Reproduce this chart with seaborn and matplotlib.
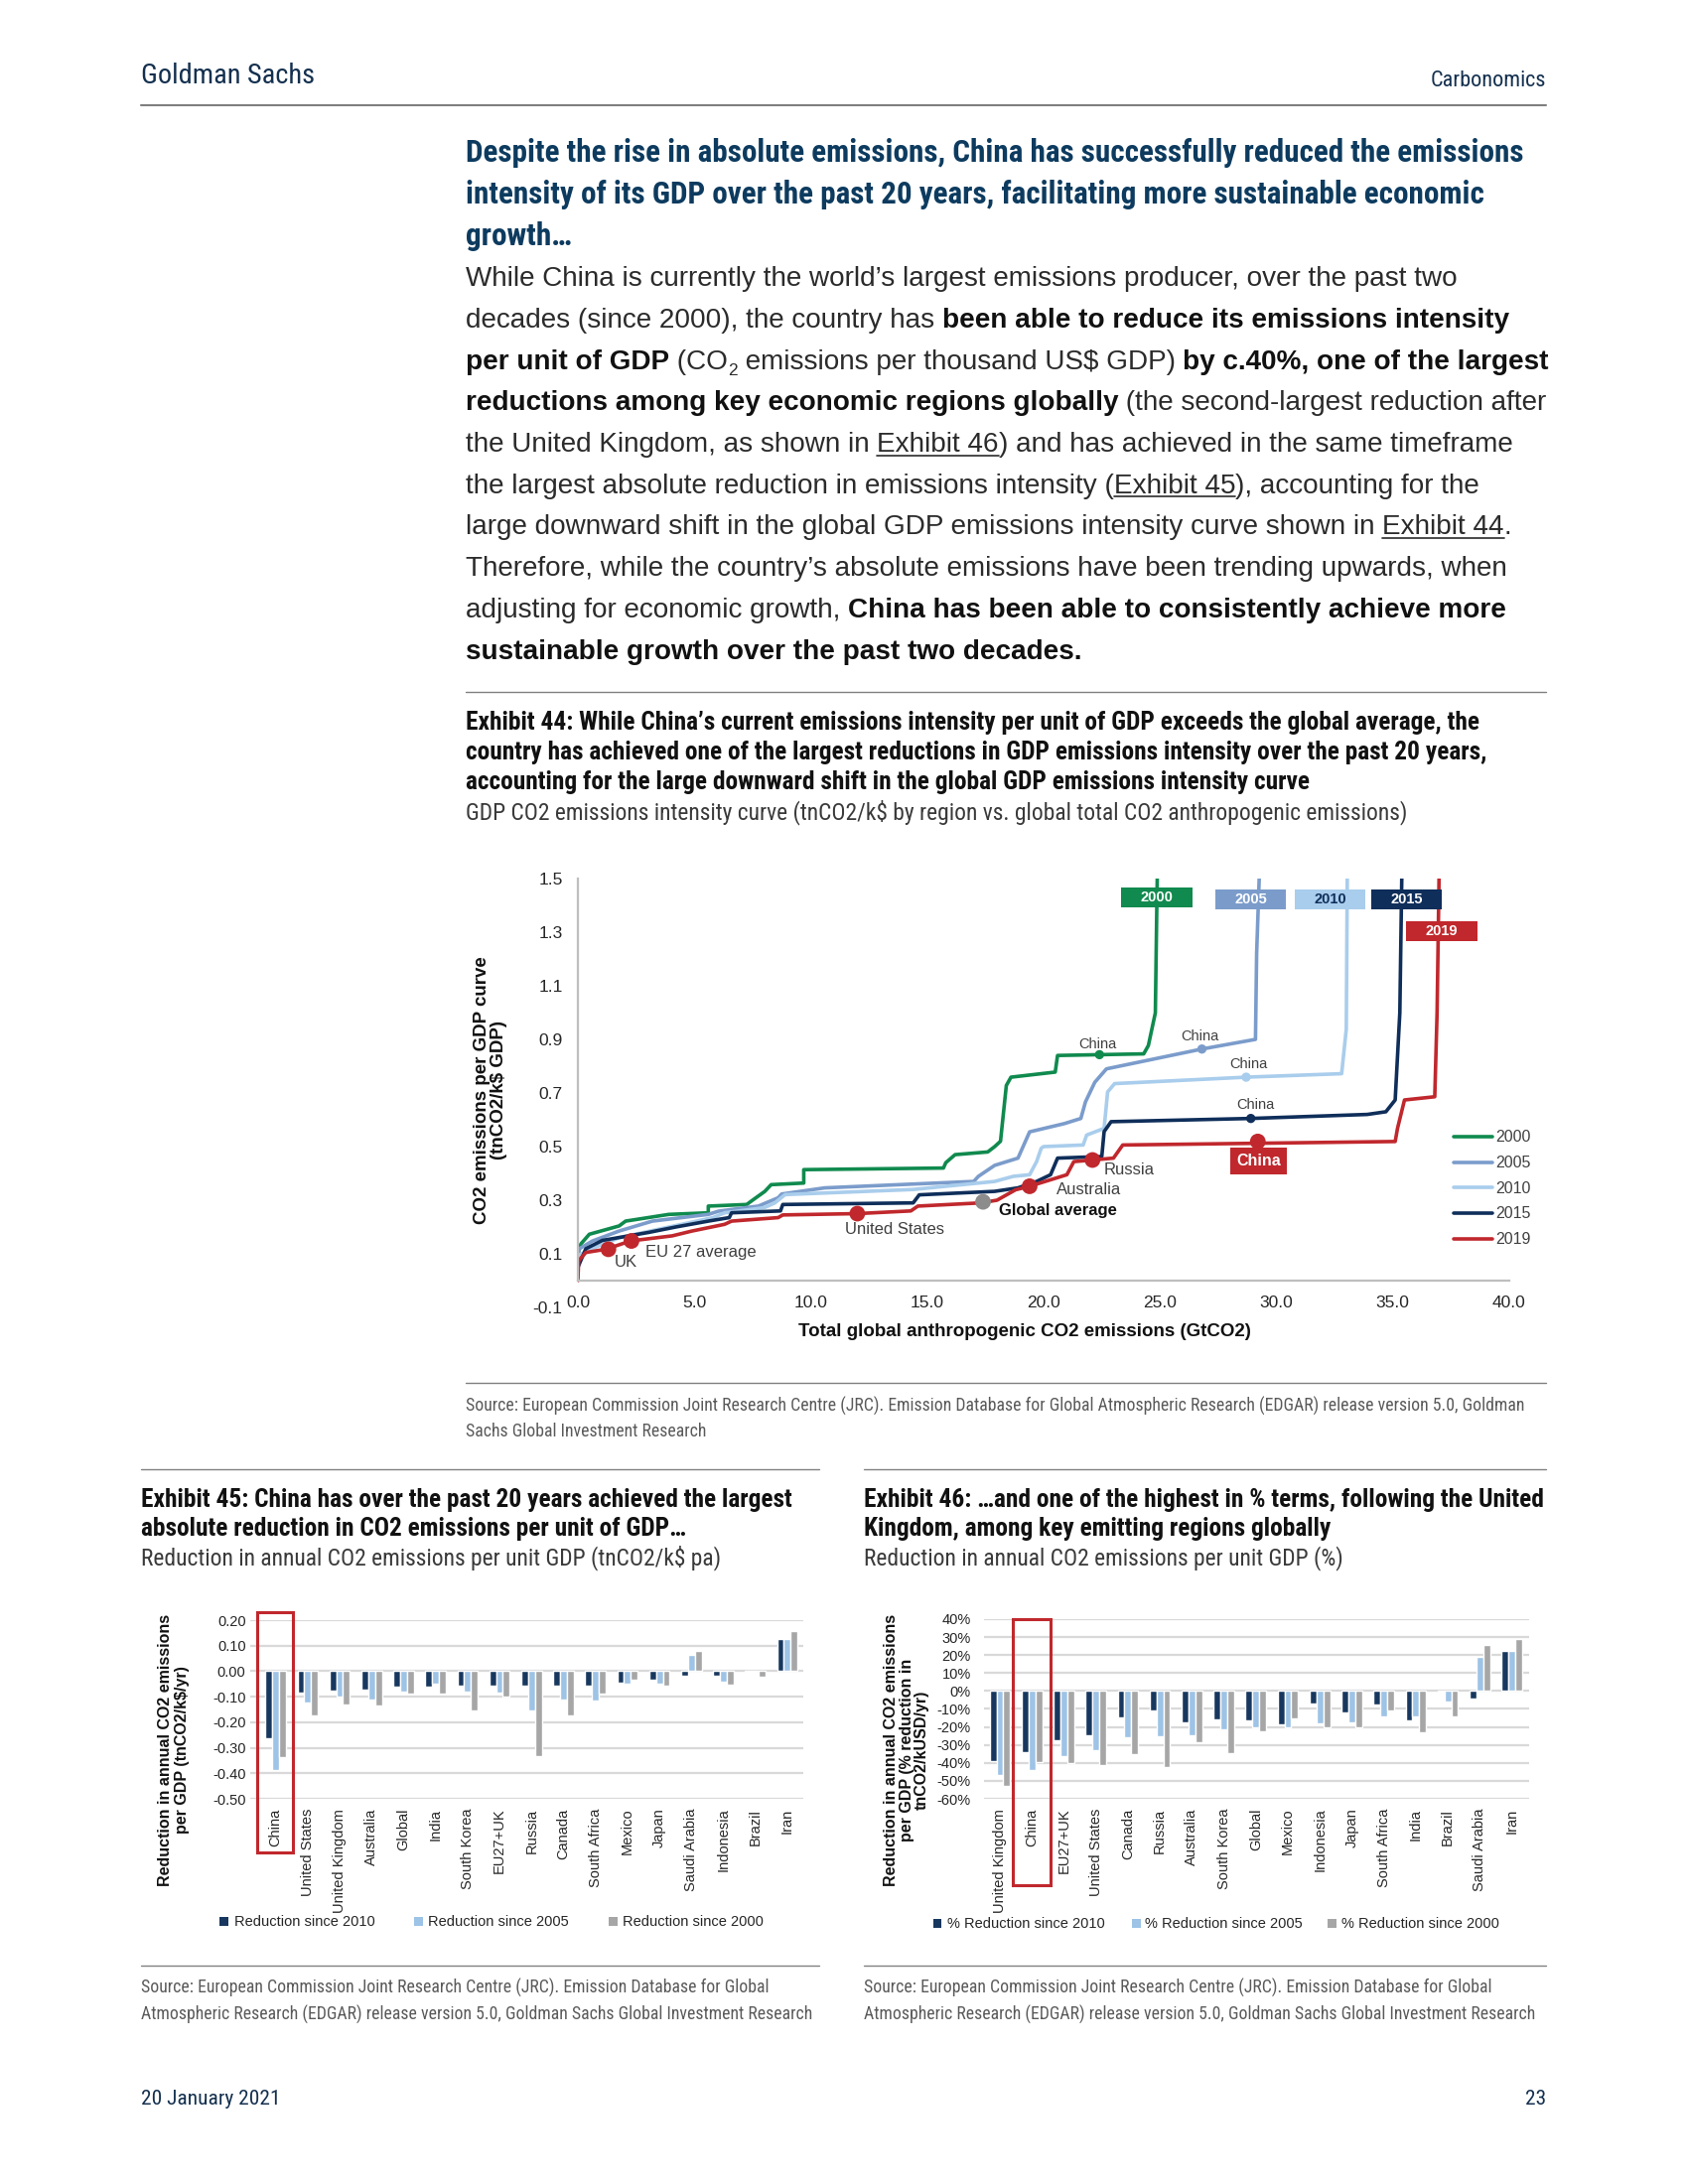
import numpy as np
import pandas as pd
import matplotlib
matplotlib.use("Agg")
import matplotlib.pyplot as plt
import matplotlib.transforms as mtransforms
from matplotlib.lines import Line2D
from matplotlib.patches import Rectangle
from matplotlib import font_manager
import seaborn as sns

# ---------------- data ----------------
years = ["2000", "2005", "2010", "2015", "2019"]

# GDP CO2 intensity curves (cumulative GtCO2 vs tnCO2/k$)
x_2000 = [0.0, 0.13, 0.49, 1.77, 2.05, 3.9, 5.6, 5.6, 7.25, 7.5, 8.03, 8.3, 9.7, 9.7,
          15.7, 15.8, 16.2, 17.6, 17.9, 18.15, 18.4, 18.6, 20.5, 20.6, 24.3, 24.5, 24.8, 24.86, 24.9]
y_2000 = [0.10, 0.137, 0.173, 0.204, 0.222, 0.247, 0.253, 0.278, 0.284, 0.30, 0.333, 0.358, 0.364, 0.414,
          0.42, 0.44, 0.47, 0.48, 0.50, 0.52, 0.728, 0.759, 0.778, 0.84, 0.846, 0.877, 0.999, 1.38, 1.6]
x_2005 = [0.0, 0.06, 0.63, 1.77, 3.2, 5.6, 6.04, 7.75, 8.6, 8.75, 10.6, 17.0, 17.2, 17.9, 18.9,
          19.4, 20.9, 21.6, 21.8, 22.2, 22.7, 26.8, 29.1, 29.15, 29.3]
y_2005 = [0.09, 0.119, 0.148, 0.185, 0.222, 0.247, 0.259, 0.278, 0.309, 0.323, 0.346, 0.37, 0.389, 0.43, 0.457,
          0.555, 0.586, 0.605, 0.667, 0.74, 0.79, 0.864, 0.90, 1.22, 1.6]
x_2010 = [0.0, 0.06, 0.9, 1.77, 5.8, 6.3, 8.0, 8.46, 8.9, 14.4, 17.2, 17.9, 18.7, 19.4, 19.7, 19.9,
          20.0, 21.7, 21.85, 22.6, 22.75, 23.05, 28.7, 32.8, 33.0, 33.05]
y_2010 = [0.08, 0.096, 0.13, 0.16, 0.235, 0.253, 0.272, 0.29, 0.321, 0.34, 0.364, 0.37, 0.389, 0.395, 0.444, 0.494,
          0.50, 0.506, 0.543, 0.568, 0.704, 0.735, 0.759, 0.772, 0.938, 1.6]
x_2015 = [0.0, 0.06, 0.34, 1.05, 3.05, 4.2, 5.6, 6.5, 6.6, 8.7, 8.8, 14.4, 14.66, 17.9, 18.9, 19.7,
          20.3, 20.6, 22.5, 22.6, 22.9, 28.9, 33.9, 34.7, 35.1, 35.3, 35.4]
y_2015 = [0.05, 0.062, 0.119, 0.15, 0.18, 0.20, 0.222, 0.235, 0.253, 0.26, 0.284, 0.29, 0.32, 0.333, 0.346, 0.37,
          0.395, 0.457, 0.463, 0.556, 0.593, 0.605, 0.62, 0.63, 0.674, 1.0, 1.6]
x_2019 = [0.0, 0.03, 0.34, 1.2, 2.26, 4.05, 4.9, 6.3, 6.6, 8.6, 8.8, 12.0, 14.3, 14.6, 17.3, 18.0,
          18.8, 19.4, 21.0, 21.3, 22.1, 23.0, 23.4, 35.1, 35.2, 35.5, 36.8, 36.9, 37.0]
y_2019 = [0.0, 0.074, 0.105, 0.117, 0.148, 0.167, 0.185, 0.21, 0.222, 0.235, 0.245, 0.25, 0.26, 0.278, 0.29, 0.30,
          0.339, 0.352, 0.395, 0.444, 0.45, 0.457, 0.506, 0.519, 0.568, 0.674, 0.686, 1.0, 1.6]

china_x = [22.4, 26.8, 28.7, 28.9]          # China points on the 2000/2005/2010/2015 curves
china_y = [0.843, 0.864, 0.759, 0.605]
china_lab_x = [22.3, 26.7, 28.8, 29.1]
china_lab_y = [0.883, 0.91, 0.806, 0.657]

pts_2019_names = ["UK", "EU 27 average", "United States", "Australia", "Russia", "China"]
pts_2019_x = [1.31, 2.3, 12.0, 19.4, 22.1, 29.2]
pts_2019_y = [0.117, 0.148, 0.25, 0.352, 0.45, 0.519]
pts_lab_x = [1.55, 2.88, 11.45, 20.56, 22.6]
pts_lab_y = [0.07, 0.106, 0.191, 0.34, 0.414]
glob_x, glob_y = 17.4, 0.294

box_x = [24.86, 28.9, 32.3, 35.6, 37.1]
box_y = [1.429, 1.421, 1.421, 1.421, 1.305]

# Exhibit 45: absolute reduction (tnCO2/k$ pa)
ex45_regions = ["China", "United States", "United Kingdom", "Australia", "Global", "India",
                "South Korea", "EU27+UK", "Russia", "Canada", "South Africa", "Mexico", "Japan",
                "Saudi Arabia", "Indonesia", "Brazil", "Iran"]
ex45_since_2010 = [-0.262, -0.084, -0.075, -0.071, -0.060, -0.060, -0.055, -0.055, -0.055, -0.055,
                   -0.055, -0.045, -0.032, -0.016, -0.016, -0.002, 0.128]
ex45_since_2005 = [-0.389, -0.123, -0.100, -0.110, -0.080, -0.048, -0.080, -0.084, -0.153, -0.110,
                   -0.116, -0.047, -0.048, 0.062, -0.042, -0.003, 0.128]
ex45_since_2000 = [-0.337, -0.172, -0.129, -0.136, -0.088, -0.088, -0.153, -0.099, -0.331, -0.172,
                   -0.088, -0.035, -0.055, 0.079, -0.051, -0.022, 0.156]
ex45_ticks = [0.2, 0.1, 0.0, -0.1, -0.2, -0.3, -0.4, -0.5]
ex45_ticklabels = ["0.20", "0.10", "0.00", "-0.10", "-0.20", "-0.30", "-0.40", "-0.50"]

# Exhibit 46: % reduction
ex46_regions = ["United Kingdom", "China", "EU27+UK", "United States", "Canada", "Russia",
                "Australia", "South Korea", "Global", "Mexico", "Indonesia", "Japan",
                "South Africa", "India", "Brazil", "Saudi Arabia", "Iran"]
ex46_since_2010 = [-38.8, -33.8, -27.3, -24.9, -14.8, -10.6, -17.2, -15.7, -16.6, -18.5, -6.9,
                   -11.7, -7.4, -16.6, -0.3, -4.1, 22.1]
ex46_since_2005 = [-46.5, -43.9, -36.0, -33.2, -25.9, -25.3, -24.4, -21.3, -20.3, -20.0, -18.1,
                   -17.6, -13.9, -13.9, -5.6, 19.0, 22.1]
ex46_since_2000 = [-52.6, -39.7, -40.3, -41.0, -35.1, -42.5, -28.3, -34.5, -22.2, -15.2, -20.3,
                   -20.0, -11.1, -23.1, -13.9, 25.4, 28.9]
ex46_ticks = [40, 30, 20, 10, 0, -10, -20, -30, -40, -50, -60]
ex46_ticklabels = ["40%", "30%", "20%", "10%", "0%", "-10%", "-20%", "-30%", "-40%", "-50%", "-60%"]

# ---------------- style ----------------
sns.set_theme(style="white")
plt.rcParams["font.family"] = ["Liberation Sans", "DejaVu Sans"]
plt.rcParams["axes.unicode_minus"] = False

SANS = dict(family=["Liberation Sans", "DejaVu Sans"])

# pick a condensed face for the report typography if one is installed
_fonts = font_manager.fontManager.ttflist
_names = {f.name for f in _fonts}
NARROW = SANS
for cand in ["Liberation Sans Narrow", "Roboto Condensed", "Open Sans Condensed", "DejaVu Sans Condensed"]:
    if cand in _names:
        NARROW = dict(family=[cand, "DejaVu Sans"])
        break
else:
    if any(f.name == "DejaVu Sans" and f.stretch == "condensed" for f in _fonts):
        NARROW = dict(family=["DejaVu Sans"], stretch="condensed")
    elif any(f.name == "Roboto" and f.stretch == "condensed" for f in _fonts):
        NARROW = dict(family=["Roboto"], stretch="condensed")

line_colors = {"2000": "#108A4E", "2005": "#7B9CCB", "2010": "#A9CDEC", "2015": "#0F2E5A", "2019": "#C0282D"}
box_text = {"2000": "white", "2005": "white", "2010": "#0F2E5A", "2015": "white", "2019": "white"}
bar_colors = ["#17375E", "#9DC3E6", "#A6A6A6"]
NAVY = "#14304F"
HEAD = "#0D3B5F"
RED = "#C0282D"

W, H = 1700, 2200
fig = plt.figure(figsize=(17, 22), dpi=100)
fig.patch.set_facecolor("white")
R = fig.canvas.get_renderer()


def text_w(s, size, fp, weight="normal"):
    t = fig.text(0, 0, s, fontsize=size, weight=weight, **fp)
    w = t.get_window_extent(R).width
    t.remove()
    return w


def adv(s, size, fp, weight="normal"):
    return text_w(s + "|", size, fp, weight) - text_w("|", size, fp, weight)


def fit_size(s, width, fp, weight="normal"):
    return 20.0 * width / adv(s, 20.0, fp, weight)


def put(x, cy, s, size, fp, weight="normal", color="#222222", ha="left"):
    base = cy + 0.33 * size * 100 / 72
    fig.text(x / W, 1 - base / H, s, fontsize=size, weight=weight,
             color=color, ha=ha, va="baseline", **fp)


def put_runs(x, cy, runs, size, fp, color_n, color_b):
    px = size * 100 / 72
    base = cy + 0.33 * px
    for s, style in runs:
        weight = "bold" if style == "b" else "normal"
        fs = size * 0.62 if style == "sub" else size
        yb = base + 0.22 * px if style == "sub" else base
        col = color_b if style == "b" else color_n
        fig.text(x / W, 1 - yb / H, s, fontsize=fs, weight=weight, color=col, va="baseline", **fp)
        w = adv(s, fs, fp, weight)
        if style == "u":
            fig.add_artist(Line2D([x / W, (x + w) / W], [1 - (base + 0.13 * px) / H] * 2,
                                  transform=fig.transFigure, color=col, lw=1.2))
        x += w


def hrule(x0, x1, y, lw=1.0, color="#808080"):
    fig.add_artist(Line2D([x0 / W, x1 / W], [1 - y / H] * 2, transform=fig.transFigure,
                          color=color, lw=lw))


# ---------------- header ----------------
gs_size = fit_size("Goldman Sachs", 175, NARROW)
put(142, 75, "Goldman Sachs", gs_size, NARROW, color=NAVY)
cb_size = fit_size("Carbonomics", 116, NARROW)
put(1557, 80, "Carbonomics", cb_size, NARROW, color=NAVY, ha="right")
hrule(142, 1557, 106, lw=1.5, color="#7F7F7F")

# ---------------- heading + body ----------------
heading = ["Despite the rise in absolute emissions, China has successfully reduced the emissions",
           "intensity of its GDP over the past 20 years, facilitating more sustainable economic",
           "growth…"]
hs = fit_size(heading[0], 1060, NARROW, "bold")
for i, line in enumerate(heading):
    put(469, 153 + 42 * i, line, hs, NARROW, weight="bold", color=HEAD)

body = [
    [("While China is currently the world’s largest emissions producer, over the past two", "n")],
    [("decades (since 2000), the country has ", "n"), ("been able to reduce its emissions intensity", "b")],
    [("per unit of GDP", "b"), (" (CO", "n"), ("2", "sub"), (" emissions per thousand US\\$ GDP) ", "n"),
     ("by c.40%, one of the largest", "b")],
    [("reductions among key economic regions globally", "b"), (" (the second-largest reduction after", "n")],
    [("the United Kingdom, as shown in ", "n"), ("Exhibit 46", "u"), (") and has achieved in the same timeframe", "n")],
    [("the largest absolute reduction in emissions intensity (", "n"), ("Exhibit 45", "u"), ("), accounting for the", "n")],
    [("large downward shift in the global GDP emissions intensity curve shown in ", "n"), ("Exhibit 44", "u"), (".", "n")],
    [("Therefore, while the country’s absolute emissions have been trending upwards, when", "n")],
    [("adjusting for economic growth, ", "n"), ("China has been able to consistently achieve more", "b")],
    [("sustainable growth over the past two decades.", "b")],
]
bs = fit_size(body[0][0][0], 1000, SANS)
for i, runs in enumerate(body):
    put_runs(469, 279 + 41.7 * i, runs, bs, SANS, "#2B2B2B", "#111111")

# ---------------- exhibit 44 ----------------
hrule(469, 1557, 697)
ex44_title = ["Exhibit 44: While China’s current emissions intensity per unit of GDP exceeds the global average, the",
              "country has achieved one of the largest reductions in GDP emissions intensity over the past 20 years,",
              "accounting for the large downward shift in the global GDP emissions intensity curve"]
ts = fit_size(ex44_title[0], 1017, NARROW, "bold")
for i, line in enumerate(ex44_title):
    put(469, 727 + 30 * i, line, ts, NARROW, weight="bold", color="#111111")
ss = fit_size("GDP CO2 emissions intensity curve (tnCO2/k$ by region vs. global total CO2 anthropogenic emissions)", 951, NARROW)
put(469, 818, "GDP CO2 emissions intensity curve (tnCO2/k\\$ by region vs. global total CO2 anthropogenic emissions)",
    ss, NARROW, color="#3A3A3A")

curves = {"2000": (x_2000, y_2000), "2005": (x_2005, y_2005), "2010": (x_2010, y_2010),
          "2015": (x_2015, y_2015), "2019": (x_2019, y_2019)}
rows = []
for yr, (xs, ys) in curves.items():
    for k, (a, b) in enumerate(zip(xs, ys)):
        rows.append((yr, k, a, b))
curve_df = pd.DataFrame(rows, columns=["year", "step", "emissions", "intensity"])

ax = fig.add_axes([582 / W, 1 - 1317 / H, 938 / W, 432 / H])
sns.lineplot(data=curve_df, x="emissions", y="intensity", hue="year", hue_order=years,
             palette=line_colors, sort=False, estimator=None, linewidth=2.6, legend=False, ax=ax)

# China points on older curves
china_df = pd.DataFrame({"x": china_x, "y": china_y, "year": years[:4]})
sns.scatterplot(data=china_df, x="x", y="y", hue="year", palette=line_colors, s=45,
                edgecolor="none", legend=False, zorder=4, ax=ax)
for lx, ly in zip(china_lab_x, china_lab_y):
    ax.text(lx, ly, "China", fontsize=10.5, color="#404040", ha="center", va="center", **SANS)

# 2019 labelled points
pts_df = pd.DataFrame({"x": pts_2019_x, "y": pts_2019_y})
sns.scatterplot(data=pts_df, x="x", y="y", color=RED, s=130, edgecolor="none", zorder=4, ax=ax)
ax.scatter([glob_x], [glob_y], color="#8C8C8C", s=130, edgecolor="none", zorder=4)
for name, lx, ly in zip(pts_2019_names[:5], pts_lab_x, pts_lab_y):
    ax.text(lx, ly, name, fontsize=12, color="#404040", ha="left", va="center", **SANS)
ax.text(18.1, 0.262, "Global average", fontsize=12, weight="bold", color="#111111",
        ha="left", va="center", **SANS)
ax.text(29.25, 0.447, "China", fontsize=11.5, weight="bold", color="white", ha="center",
        va="center", zorder=6, bbox=dict(boxstyle="square,pad=0.38", fc=RED, ec="none"), **SANS)

# year tags
for yr, bx, by in zip(years, box_x, box_y):
    ax.add_patch(Rectangle((bx - 1.52, by - 0.037), 3.04, 0.074, fc=line_colors[yr], ec="none", zorder=5))
    ax.text(bx, by, yr, fontsize=10.5, weight="bold", color=box_text[yr], ha="center",
            va="center", zorder=6, **SANS)

ax.set_xlim(0, 40)
ax.set_ylim(-0.1, 1.5)
ax.set_xticks(np.arange(0, 41, 5))
ax.set_xticklabels([f"{v:.1f}" for v in np.arange(0, 41, 5)])
yt = [-0.1, 0.1, 0.3, 0.5, 0.7, 0.9, 1.1, 1.3, 1.5]
ax.set_yticks(yt)
ax.set_yticklabels([f"{v:.1f}" for v in yt])
for s in ["top", "right"]:
    ax.spines[s].set_visible(False)
ax.spines["bottom"].set_position(("data", 0))
ax.spines["bottom"].set_bounds(0, 40)
ax.spines["left"].set_bounds(0, 1.5)
for s in ["bottom", "left"]:
    ax.spines[s].set_color("#BFBFBF")
    ax.spines[s].set_linewidth(1.6)
ax.tick_params(axis="both", length=0, labelsize=12.5, colors="#262626")
ax.tick_params(axis="x", pad=11)
ax.tick_params(axis="y", pad=11)
ax.set_xlabel("")
ax.set_ylabel("")
ax.set_facecolor("white")

# legend
for i, yr in enumerate(years):
    yy = 1145 + 25.7 * i
    fig.add_artist(Line2D([1464 / W, 1503 / W], [1 - yy / H] * 2, transform=fig.transFigure,
                          color=line_colors[yr], lw=2.6))
    put(1506, yy, yr, 11.5, SANS, color="#404040")

fig.text(494 / W, 1 - 1098 / H, "CO2 emissions per GDP curve\n(tnCO2/k\\$ GDP)", rotation=90,
         ha="center", va="center", fontsize=13.5, weight="bold", color="#111111",
         linespacing=1.05, multialignment="center", **SANS)
fig.text(1032 / W, 1 - 1342 / H, "Total global anthropogenic CO2 emissions (GtCO2)", ha="center",
         va="center", fontsize=13.5, weight="bold", color="#111111", **SANS)

hrule(469, 1557, 1393)
src44 = "Source: European Commission Joint Research Centre (JRC). Emission Database for Global Atmospheric Research (EDGAR) release version 5.0, Goldman"
srs = fit_size(src44, 1063, NARROW)
put(469, 1416, src44, srs, NARROW, color="#5A5A5A")
put(469, 1441, "Sachs Global Investment Research", srs, NARROW, color="#5A5A5A")

# ---------------- exhibits 45 / 46 ----------------
hrule(142, 825, 1480)
hrule(870, 1557, 1480)
put(142, 1510, "Exhibit 45: China has over the past 20 years achieved the largest", ts, NARROW, weight="bold", color="#111111")
put(142, 1539, "absolute reduction in CO2 emissions per unit of GDP…", ts, NARROW, weight="bold", color="#111111")
put(142, 1569, "Reduction in annual CO2 emissions per unit GDP (tnCO2/k\\$ pa)", ss, NARROW, color="#3A3A3A")
put(870, 1510, "Exhibit 46: …and one of the highest in % terms, following the United", ts, NARROW, weight="bold", color="#111111")
put(870, 1539, "Kingdom, among key emitting regions globally", ts, NARROW, weight="bold", color="#111111")
put(870, 1569, "Reduction in annual CO2 emissions per unit GDP (%)", ss, NARROW, color="#3A3A3A")


def bar_panel(rect, regions, v10, v05, v00, names, ticks, ticklabels, ylim, xlim, ypad,
              box_x0, box_x1, box_y0, box_y1):
    axb = fig.add_axes(rect)
    df = pd.DataFrame({"region": regions, names[0]: v10, names[1]: v05, names[2]: v00})
    df = df.melt(id_vars="region", var_name="series", value_name="value")
    sns.barplot(data=df, x="region", y="value", hue="series", order=regions, hue_order=names,
                palette=bar_colors, width=0.64, saturation=1, errorbar=None, legend=False, ax=axb)
    axb.set_ylim(*ylim)
    axb.set_xlim(*xlim)
    axb.set_yticks(ticks)
    axb.set_yticklabels(ticklabels)
    axb.set_xticks(range(len(regions)))
    axb.set_xticklabels(regions, rotation=90, ha="center", va="top")
    axb.yaxis.grid(True, color="#D9D9D9", lw=1.6)
    axb.xaxis.grid(False)
    axb.set_axisbelow(True)
    for s in axb.spines.values():
        s.set_visible(False)
    axb.tick_params(axis="x", length=0, labelsize=10.5, colors="#262626", pad=7)
    axb.tick_params(axis="y", length=0, labelsize=10.5, colors="#262626", pad=ypad)
    axb.set_xlabel("")
    axb.set_ylabel("")
    trans = mtransforms.blended_transform_factory(axb.transData, axb.transAxes)
    axb.add_patch(Rectangle((box_x0, box_y0), box_x1 - box_x0, box_y1 - box_y0, transform=trans,
                            fill=False, ec=RED, lw=2.2, clip_on=False, zorder=6))
    return axb


names45 = ["Reduction since 2010", "Reduction since 2005", "Reduction since 2000"]
bar_panel([252 / W, 1 - 1812 / H, 557 / W, 180 / H], ex45_regions, ex45_since_2010, ex45_since_2005,
          ex45_since_2000, names45, ex45_ticks, ex45_ticklabels, (-0.5, 0.2), (-0.795, 16.5), 3.2,
          -0.578, 0.54, -0.30, 1.044)
names46 = ["% Reduction since 2010", "% Reduction since 2005", "% Reduction since 2000"]
bar_panel([991 / W, 1 - 1812 / H, 549 / W, 181 / H], ex46_regions, ex46_since_2010, ex46_since_2005,
          ex46_since_2000, names46, ex46_ticks, ex46_ticklabels, (-60, 40), (-0.497, 16.54), 9.4,
          0.40, 1.58, -0.48, 1.0)

fig.text(175 / W, 1 - 1763 / H, "Reduction in annual CO2 emissions\nper GDP (tnCO2/k\\$/yr)", rotation=90,
         ha="center", va="center", fontsize=11.5, weight="bold", color="#111111",
         linespacing=1.1, multialignment="center", **SANS)
fig.text(913 / W, 1 - 1763 / H, "Reduction in annual CO2 emissions\nper GDP (% reduction in\ntnCO2/kUSD/yr)",
         rotation=90, ha="center", va="center", fontsize=11.5, weight="bold",
         color="#111111", linespacing=1.05, multialignment="center", **SANS)

# bar legends
for names, mx, tx, yy in [(names45, [226, 421, 617], [236, 431, 627], 1935),
                          (names46, [944, 1144, 1341], [954, 1153, 1351], 1937)]:
    for nm, c, m, t in zip(names, bar_colors, mx, tx):
        fig.add_artist(Rectangle(((m - 4.5) / W, 1 - (yy + 4.5) / H), 9 / W, 9 / H,
                                 transform=fig.transFigure, fc=c, ec="none"))
        put(t, yy, nm, 10.5, SANS, color="#262626")

hrule(142, 825, 1980)
hrule(870, 1557, 1980)
src_a = "Source: European Commission Joint Research Centre (JRC). Emission Database for Global"
src_b = "Atmospheric Research (EDGAR) release version 5.0, Goldman Sachs Global Investment Research"
for x0 in [142, 870]:
    put(x0, 2002, src_a, srs, NARROW, color="#5A5A5A")
    put(x0, 2029, src_b, srs, NARROW, color="#5A5A5A")

# ---------------- footer ----------------
fs_ = fit_size("20 January 2021", 140, NARROW)
put(142, 2113, "20 January 2021", fs_, NARROW, color=NAVY)
put(1557, 2113, "23", fs_, NARROW, color=NAVY, ha="right")

fig.savefig("out.png", dpi=100, facecolor="white")
